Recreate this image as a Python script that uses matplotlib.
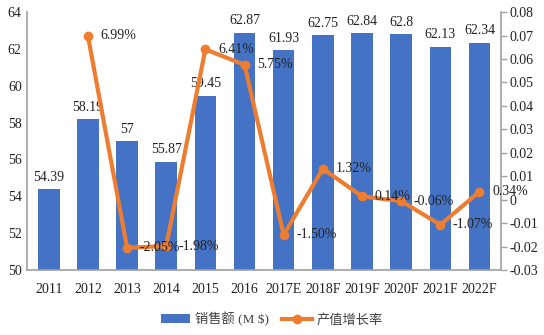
import matplotlib
matplotlib.use("Agg")
import matplotlib.pyplot as plt
from matplotlib.lines import Line2D
from matplotlib.patches import Patch

plt.rcParams['font.family'] = ['Liberation Serif', 'Noto Sans CJK SC', 'DejaVu Sans']

years = ['2011', '2012', '2013', '2014', '2015', '2016', '2017E', '2018F', '2019F', '2020F', '2021F', '2022F']
sales = [54.39, 58.19, 57, 55.87, 59.45, 62.87, 61.93, 62.75, 62.84, 62.8, 62.13, 62.34]
sales_labels = ['54.39', '58.19', '57', '55.87', '59.45', '62.87', '61.93', '62.75', '62.84', '62.8', '62.13', '62.34']
growth_x = ['2012', '2013', '2014', '2015', '2016', '2017E', '2018F', '2019F', '2020F', '2021F', '2022F']
growth = [0.0699, -0.0205, -0.0198, 0.0641, 0.0575, -0.0150, 0.0132, 0.0014, -0.0006, -0.0107, 0.0034]
growth_labels = ['6.99%', '-2.05%', '-1.98%', '6.41%', '5.75%', '-1.50%', '1.32%', '0.14%', '-0.06%', '-1.07%', '0.34%']

bar_color = '#4472C4'
line_color = '#ED7D31'
text_color = '#222222'

fig = plt.figure(figsize=(5.44, 3.35), dpi=100)
ax = fig.add_axes([0.050, 0.194, 0.871, 0.770])
x = list(range(len(years)))
ax.bar(x, sales, width=0.55, color=bar_color, zorder=2)
ax.set_ylim(50, 64)
ax.set_yticks([50, 52, 54, 56, 58, 60, 62, 64])
ax.set_xlim(-0.55, len(years) - 0.45)
ax.set_xticks(x)
ax.set_xticklabels(years)
ax.tick_params(axis='y', length=0, labelsize=10, colors=text_color, pad=4)
ax.tick_params(axis='x', length=0, labelsize=10, colors=text_color, pad=9)
for s in ['top', 'right']:
    ax.spines[s].set_visible(False)
for s in ['left', 'bottom']:
    ax.spines[s].set_color('#A0A0A0')
    ax.spines[s].set_linewidth(1.2)
for xi, v, lab in zip(x, sales, sales_labels):
    ax.text(xi, v + 0.3, lab, ha='center', va='bottom', fontsize=10, color=text_color, zorder=5)

ax2 = ax.twinx()
gx = [years.index(g) for g in growth_x]
ax2.plot(gx, growth, color=line_color, lw=3, marker='o', ms=6, zorder=4)
ax2.set_ylim(-0.03, 0.08)
ax2.set_yticks([-0.03, -0.02, -0.01, 0, 0.01, 0.02, 0.03, 0.04, 0.05, 0.06, 0.07, 0.08])
ax2.set_yticklabels(['-0.03', '-0.02', '-0.01', '0', '0.01', '0.02', '0.03', '0.04', '0.05', '0.06', '0.07', '0.08'])
ax2.tick_params(axis='y', length=4, width=1, color='#A0A0A0', labelsize=10, labelcolor=text_color, pad=2)
for s in ['top', 'left', 'bottom']:
    ax2.spines[s].set_visible(False)
ax2.spines['right'].set_color('#A0A0A0')
ax2.spines['right'].set_linewidth(1.2)
for xi, v, lab in zip(gx, growth, growth_labels):
    ax2.text(xi + 0.32, v, lab, ha='left', va='center', fontsize=10, color=text_color, zorder=6)

handles = [Patch(facecolor=bar_color), Line2D([0], [0], color=line_color, lw=3, marker='o', ms=6)]
fig.legend(handles, ['销售额 (M $)', '产值增长率'], loc='lower center', bbox_to_anchor=(0.5, -0.01),
           ncol=2, frameon=False, fontsize=9.5, handlelength=2.2, handletextpad=0.4,
           columnspacing=1.0, labelcolor='#404040')

fig.savefig('out.png', dpi=100)
